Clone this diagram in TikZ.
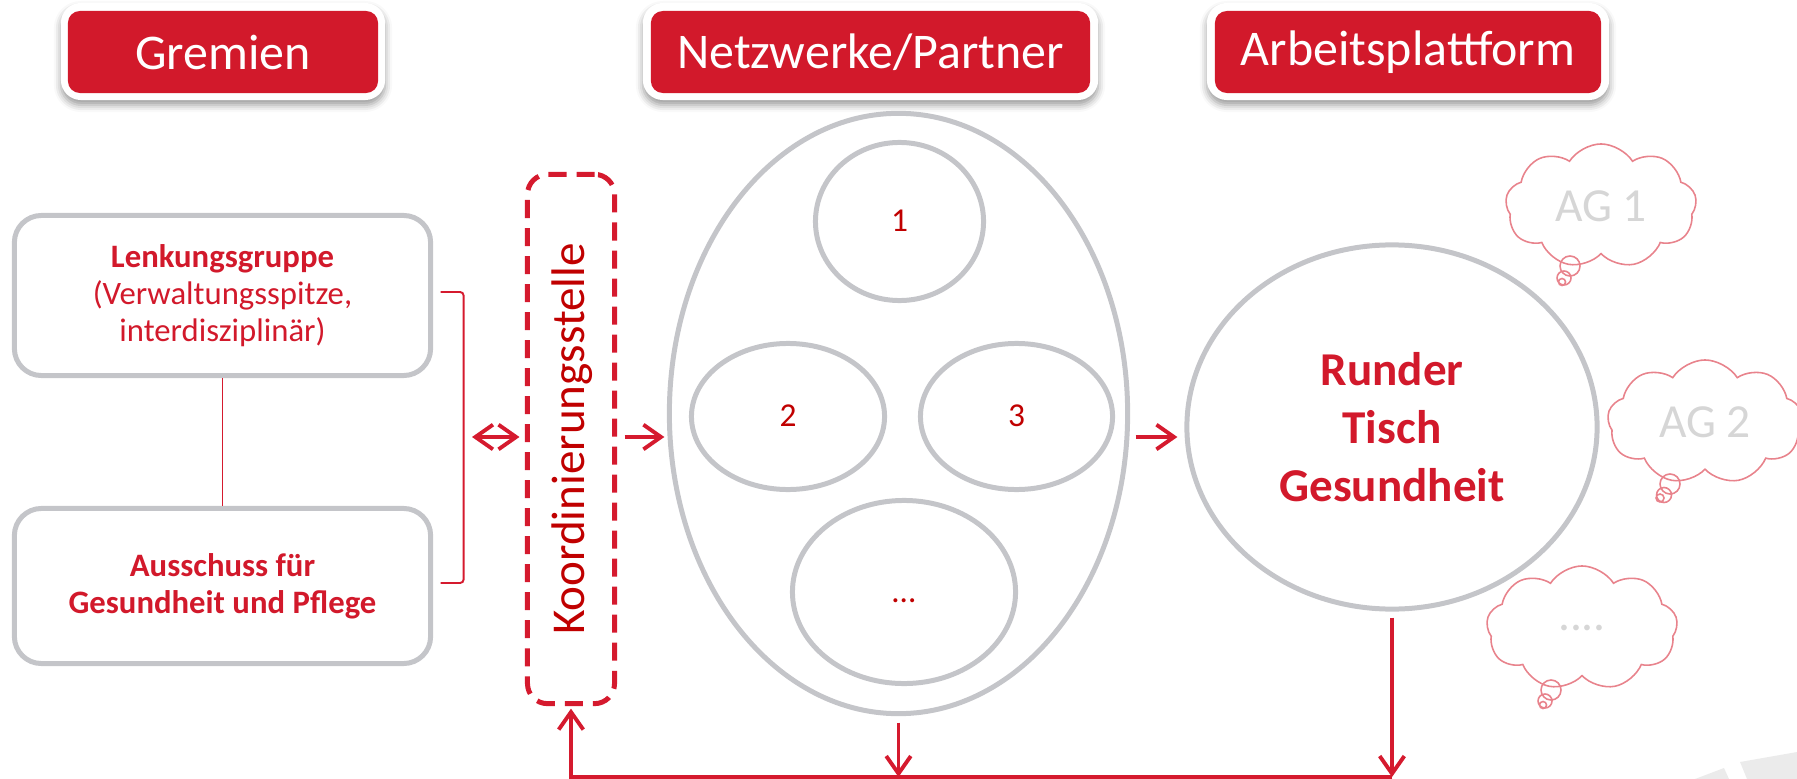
\documentclass[tikz,border=0pt]{standalone}
\usepackage{fontspec}
\setmainfont{Carlito}
\usetikzlibrary{arrows.meta,shapes.geometric,shapes.symbols,shadows.blur,calc}
\definecolor{hdr}{HTML}{D2192B}
\definecolor{rl}{HTML}{D51A2E}
\definecolor{dred}{HTML}{C00000}
\definecolor{gr}{HTML}{C4C5C9}
\definecolor{cl}{HTML}{E8838C}
\definecolor{agt}{HTML}{D6D6D6}
\begin{document}
\begin{tikzpicture}[x=0.01cm,y=-0.01cm,
  hdrout/.style={fill=white, rounded corners=0.2cm, inner sep=0pt, minimum height=0.97cm,
    blur shadow={shadow xshift=0cm, shadow yshift=-0.05cm, shadow blur radius=0.07cm, shadow opacity=40}},
  hdrbox/.style={fill=hdr, rounded corners=0.12cm, text=white, font=\fontsize{14.2}{17}\selectfont, minimum height=0.82cm, inner sep=0pt},
  gbox/.style={draw=gr, line width=1.42pt, rounded corners=0.27cm, fill=white, text=hdr, align=center,
    font=\fontsize{9.3}{10.5}\selectfont, minimum width=4.16cm, inner sep=0pt},
  ell/.style={ellipse, draw=gr, line width=1.42pt, inner sep=0pt},
  numsty/.style={text=dred, font=\fontsize{9.5}{11}\selectfont, text height=1.5ex, text depth=0.25ex},
  arr/.style={draw=rl, line width=1.1pt, -{Straight Barb[length=5pt,width=7pt]}},
  thinred/.style={draw=rl, line width=0.55pt},
  cloudsty/.style={cloud, cloud puffs=9, cloud puff arc=115, cloud ignores aspect, draw=cl, line width=0.45pt, inner sep=0pt,
    text=agt, font=\fontsize{13.5}{15}\selectfont},
  bub/.style={draw=cl, line width=0.45pt},
]
\useasboundingbox (0,0) rectangle (1797,779);

% watermark fragment
\fill[black!8] (1695,779) -- (1724,768) -- (1729,779) -- cycle;
\fill[black!8] (1740,762) -- (1797,752) -- (1797,779) -- (1747,779) -- cycle;

% headers
\node[hdrout, minimum width=3.24cm] (hGo) at (223,51.5) {};
\node[hdrbox, minimum width=3.10cm] (hG) at (223,52) {Gremien};
\node[hdrout, minimum width=4.55cm] (hNo) at (870.5,51.5) {};
\node[hdrbox, minimum width=4.39cm] (hN) at (870.5,52) {Netzwerke/Partner};
\node[hdrout, minimum width=4.02cm] (hAo) at (1408,51.5) {};
\node[hdrbox, minimum width=3.86cm] (hA) at (1408,52) {Arbeitsplattform};

% left boxes
\node[gbox, minimum height=1.60cm] (lenk) at (222.5,295.5)
  {\textbf{Lenkungsgruppe}\\(Verwaltungsspitze,\\interdisziplinär)};
\node[gbox, minimum height=1.55cm] (aus) at (222.5,586)
  {\textbf{Ausschuss für}\\\textbf{Gesundheit und Pflege}};
\draw[thinred] (lenk.south) -- (aus.north);
\coordinate (b1) at ($(lenk.east)+(7.5,-3.5)$);
\coordinate (b2) at ($(aus.east)+(7.5,-3)$);
\draw[thinred, rounded corners=1pt] (b1) -- ++(23,0) |- (b2);

% Koordinierungsstelle
\node[draw=rl, line width=1.42pt, dash pattern=on 0.18cm off 0.1cm, rounded corners=0.2cm,
  minimum width=0.87cm, minimum height=5.29cm, inner sep=0pt] (koord) at (571,439) {};
\node[rotate=90, text=dred, font=\fontsize{13.4}{15}\selectfont] (koordt) at (572,439) {Koordinierungsstelle};

% Netzwerke ellipses
\node[ell, minimum width=4.58cm, minimum height=6.00cm] (big) at (898.5,413.5) {};
\node[ell, numsty, minimum width=1.68cm, minimum height=1.58cm] (e1) at (899.5,221.5) {1};
\node[ell, numsty, minimum width=1.93cm, minimum height=1.46cm] (e2) at (788,416.5) {2};
\node[ell, numsty, minimum width=1.92cm, minimum height=1.46cm] (e3) at (1016.5,416.5) {3};
\node[ell, numsty, minimum width=2.23cm, minimum height=1.83cm] (e4) at (904,592) {…};

% Runder Tisch
\node[ell, minimum width=4.10cm, minimum height=3.64cm, text=hdr, align=center,
  font=\bfseries\fontsize{13.4}{16.4}\selectfont] (runder) at (1392,427) {Runder\\Tisch\\Gesundheit};

% clouds
\node[cloudsty, minimum width=1.91cm, minimum height=1.24cm] (ag1) at (1601,206) {AG 1};
\node[cloudsty, minimum width=1.95cm, minimum height=1.24cm] (ag2) at (1705,422) {AG 2};
\node[cloudsty, minimum width=1.91cm, minimum height=1.24cm] (ag3) at (1582,628) {....};
\draw[bub] (1570,266) circle (0.1cm) (1564,278) circle (0.07cm) (1562,282) circle (0.035cm);
\draw[bub] (1670,484) circle (0.1cm) (1664,495) circle (0.075cm) (1660,498) circle (0.04cm);
\draw[bub] (1551,690) circle (0.1cm) (1545,701) circle (0.07cm) (1543,705) circle (0.035cm);

% connectors
\coordinate (ay) at (0,437);
\coordinate (yb) at (0,777);
\coordinate (dl) at (472,437);
\draw[arr, {Straight Barb[length=5pt,width=7pt]}-{Straight Barb[length=5pt,width=7pt]}]
  (dl) -- ([xshift=-0.055cm]koord.west |- ay);
\draw[arr] ([xshift=0.075cm]koord.east |- ay) -- ([xshift=-0.025cm]big.west |- ay);
\draw[arr] ([xshift=0.055cm]big.east |- ay) -- ([xshift=-0.07cm]runder.west |- ay);
\draw[arr] ([yshift=-0.065cm]big.south) -- (big.south |- yb);
\draw[arr] ([yshift=-0.06cm]runder.south) -- (runder.south |- yb);
\draw[arr] (runder.south |- yb) -- (koord.south |- yb) -- ([yshift=-0.025cm]koord.south);
\end{tikzpicture}
\end{document}
